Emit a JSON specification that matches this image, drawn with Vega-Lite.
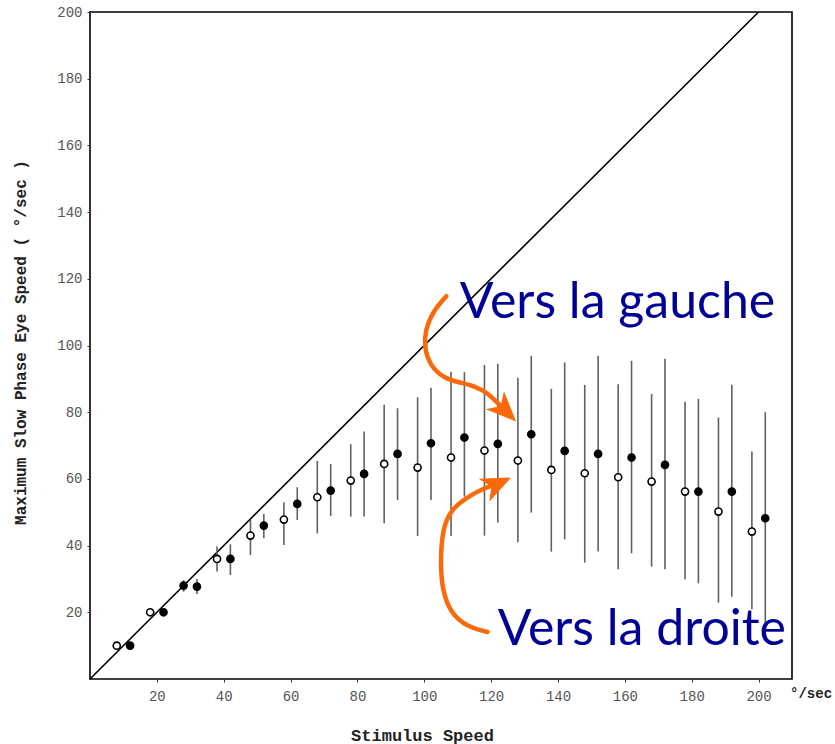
{
  "$schema": "https://vega.github.io/schema/vega-lite/v6.json",
  "width": 702,
  "height": 667,
  "autosize": {"type": "none"},
  "padding": {"left": 90, "top": 12, "right": 43, "bottom": 65},
  "background": "white",
  "config": {
    "view": {"stroke": "black", "strokeWidth": 1.6},
    "axis": {
      "grid": false,
      "domain": false,
      "tickColor": "#333",
      "tickSize": 3,
      "labelFont": "Liberation Mono",
      "labelFontSize": 14,
      "labelColor": "#555",
      "titleFont": "Liberation Mono",
      "titleFontWeight": "bold",
      "titleColor": "#222"
    }
  },
  "datasets": {
    "pts": [
      {"x": 8, "y": 10, "type": "open"},
      {"x": 12, "y": 10, "type": "filled"},
      {"x": 18, "y": 20, "type": "open"},
      {"x": 22, "y": 20, "type": "filled"},
      {"x": 28, "y": 28, "lo": 26.2, "hi": 29.6, "type": "filled"},
      {"x": 32, "y": 27.7, "lo": 25.5, "hi": 30, "type": "filled"},
      {"x": 38, "y": 36, "lo": 32.2, "hi": 39.7, "type": "open"},
      {"x": 42, "y": 36, "lo": 31.2, "hi": 40.4, "type": "filled"},
      {"x": 48, "y": 43, "lo": 37.2, "hi": 47.7, "type": "open"},
      {"x": 52, "y": 46, "lo": 42.2, "hi": 49.5, "type": "filled"},
      {"x": 58, "y": 47.8, "lo": 40.2, "hi": 53, "type": "open"},
      {"x": 62, "y": 52.5, "lo": 47.7, "hi": 57.5, "type": "filled"},
      {"x": 68, "y": 54.5, "lo": 43.7, "hi": 65.4, "type": "open"},
      {"x": 72, "y": 56.5, "lo": 48.9, "hi": 64.5, "type": "filled"},
      {"x": 78, "y": 59.5, "lo": 48.7, "hi": 70.4, "type": "open"},
      {"x": 82, "y": 61.5, "lo": 48.7, "hi": 74.2, "type": "filled"},
      {"x": 88, "y": 64.5, "lo": 46.7, "hi": 82.2, "type": "open"},
      {"x": 92, "y": 67.5, "lo": 53.7, "hi": 81.2, "type": "filled"},
      {"x": 98, "y": 63.4, "lo": 42.9, "hi": 84.5, "type": "open"},
      {"x": 102, "y": 70.7, "lo": 53.7, "hi": 87.3, "type": "filled"},
      {"x": 108, "y": 66.4, "lo": 42.9, "hi": 92.1, "type": "open"},
      {"x": 112, "y": 72.4, "lo": 54.7, "hi": 92, "type": "filled"},
      {"x": 118, "y": 68.5, "lo": 43, "hi": 94.2, "type": "open"},
      {"x": 122, "y": 70.5, "lo": 46.9, "hi": 94.5, "type": "filled"},
      {"x": 128, "y": 65.5, "lo": 41, "hi": 90.3, "type": "open"},
      {"x": 132, "y": 73.4, "lo": 49.9, "hi": 96.9, "type": "filled"},
      {"x": 138, "y": 62.7, "lo": 38.2, "hi": 87, "type": "open"},
      {"x": 142, "y": 68.4, "lo": 41.9, "hi": 94.9, "type": "filled"},
      {"x": 148, "y": 61.7, "lo": 34.9, "hi": 88.2, "type": "open"},
      {"x": 152, "y": 67.5, "lo": 38.2, "hi": 96.9, "type": "filled"},
      {"x": 158, "y": 60.5, "lo": 32.9, "hi": 88.4, "type": "open"},
      {"x": 162, "y": 66.4, "lo": 37.7, "hi": 95.4, "type": "filled"},
      {"x": 168, "y": 59.2, "lo": 33.7, "hi": 85.5, "type": "open"},
      {"x": 172, "y": 64.2, "lo": 32.9, "hi": 96, "type": "filled"},
      {"x": 178, "y": 56.2, "lo": 29.9, "hi": 83.1, "type": "open"},
      {"x": 182, "y": 56.2, "lo": 28.7, "hi": 84, "type": "filled"},
      {"x": 188, "y": 50.2, "lo": 22.9, "hi": 78.4, "type": "open"},
      {"x": 192, "y": 56.2, "lo": 24.7, "hi": 88.2, "type": "filled"},
      {"x": 198, "y": 44.2, "lo": 20.9, "hi": 68.2, "type": "open"},
      {"x": 202, "y": 48.2, "lo": 17, "hi": 80, "type": "filled"}
    ],
    "diag": [
      {"x": 0, "y": 0},
      {"x": 200, "y": 200}
    ],
    "arrows": [
      {"arrow": "gauche", "i": 1, "x": 106.6, "y": 114.8},
      {"arrow": "gauche", "i": 2, "x": 102.4, "y": 110.0},
      {"arrow": "gauche", "i": 3, "x": 100.3, "y": 104.6},
      {"arrow": "gauche", "i": 4, "x": 100.0, "y": 99.3},
      {"arrow": "gauche", "i": 5, "x": 101.8, "y": 93.9},
      {"arrow": "gauche", "i": 6, "x": 105.7, "y": 90.3},
      {"arrow": "gauche", "i": 7, "x": 110.8, "y": 88.8},
      {"arrow": "gauche", "i": 8, "x": 115.0, "y": 87.9},
      {"arrow": "gauche", "i": 9, "x": 118.9, "y": 85.8},
      {"arrow": "gauche", "i": 10, "x": 122.2, "y": 82.5},
      {"arrow": "gauche", "i": 11, "x": 124.3, "y": 80.4},
      {"arrow": "droite", "i": 1, "x": 118.9, "y": 14.1},
      {"arrow": "droite", "i": 2, "x": 112.9, "y": 15.6},
      {"arrow": "droite", "i": 3, "x": 107.8, "y": 19.8},
      {"arrow": "droite", "i": 4, "x": 105.4, "y": 26.7},
      {"arrow": "droite", "i": 5, "x": 104.8, "y": 34.8},
      {"arrow": "droite", "i": 6, "x": 105.4, "y": 44.7},
      {"arrow": "droite", "i": 7, "x": 107.8, "y": 50.7},
      {"arrow": "droite", "i": 8, "x": 112.9, "y": 54.6},
      {"arrow": "droite", "i": 9, "x": 118.0, "y": 57.3},
      {"arrow": "droite", "i": 10, "x": 121.9, "y": 58.5}
    ],
    "heads": [
      {"arrow": "gauche", "x": 124.3, "y": 80.4},
      {"arrow": "droite", "x": 121.9, "y": 58.5}
    ],
    "labels": [
      {"text": "Vers la gauche", "x": 157.8, "y": 108.2},
      {"text": "Vers la droite", "x": 165.1, "y": 10.2}
    ],
    "unit": [
      {"text": "°/sec", "x": 215.7, "y": -4.5}
    ]
  },
  "layer": [
    {
      "data": {"name": "diag"},
      "mark": {"type": "line", "color": "black", "strokeWidth": 1.6},
      "encoding": {
        "x": {
          "field": "x", "type": "quantitative",
          "scale": {"domain": [0, 210], "nice": false, "zero": true},
          "axis": {"values": [20, 40, 60, 80, 100, 120, 140, 160, 180, 200], "labelPadding": 7, "title": "Stimulus Speed", "titleFontSize": 17, "titleX": 332, "titleY": 56, "titleBaseline": "middle", "titleAlign": "center"}
        },
        "y": {
          "field": "y", "type": "quantitative",
          "scale": {"domain": [0, 200], "nice": false},
          "axis": {"values": [20, 40, 60, 80, 100, 120, 140, 160, 180, 200], "labelPadding": 5, "title": "Maximum Slow Phase Eye Speed ( °/sec )", "titleFontSize": 16, "titleX": -70, "titleY": 330, "titleBaseline": "middle", "titleAlign": "center", "titleAngle": -90}
        }
      }
    },
    {
      "data": {"name": "pts"},
      "transform": [{"filter": "datum.lo != null"}],
      "mark": {"type": "rule", "color": "#606060", "strokeWidth": 1.6},
      "encoding": {
        "x": {"field": "x", "type": "quantitative"},
        "y": {"field": "lo", "type": "quantitative"},
        "y2": {"field": "hi"}
      }
    },
    {
      "data": {"name": "pts"},
      "mark": {"type": "point", "shape": "circle", "filled": true, "stroke": "black", "strokeWidth": 1.6, "size": 50, "opacity": 1},
      "encoding": {
        "x": {"field": "x", "type": "quantitative"},
        "y": {"field": "y", "type": "quantitative"},
        "fill": {"field": "type", "type": "nominal", "scale": {"domain": ["open", "filled"], "range": ["white", "black"]}, "legend": null}
      }
    },
    {
      "data": {"name": "arrows"},
      "mark": {"type": "line", "color": "#FA6A0A", "strokeWidth": 4.5, "interpolate": "basis", "strokeCap": "round"},
      "encoding": {
        "x": {"field": "x", "type": "quantitative"},
        "y": {"field": "y", "type": "quantitative"},
        "detail": {"field": "arrow"},
        "order": {"field": "i", "type": "quantitative"}
      }
    },
    {
      "data": {"name": "heads"},
      "transform": [{"filter": "datum.arrow == 'gauche'"}],
      "mark": {"type": "point", "filled": true, "color": "#FA6A0A", "opacity": 1, "shape": "M1,0 L-1,-0.85 L-0.45,0 L-1,0.85 Z", "size": 900, "angle": 45},
      "encoding": {
        "x": {"field": "x", "type": "quantitative"},
        "y": {"field": "y", "type": "quantitative"}
      }
    },
    {
      "data": {"name": "heads"},
      "transform": [{"filter": "datum.arrow == 'droite'"}],
      "mark": {"type": "point", "filled": true, "color": "#FA6A0A", "opacity": 1, "shape": "M1,0 L-1,-0.85 L-0.45,0 L-1,0.85 Z", "size": 900, "angle": 335},
      "encoding": {
        "x": {"field": "x", "type": "quantitative"},
        "y": {"field": "y", "type": "quantitative"}
      }
    },
    {
      "data": {"name": "labels"},
      "mark": {"type": "text", "font": "Lato", "fontSize": 50, "color": "#000096", "align": "center", "baseline": "alphabetic"},
      "encoding": {
        "x": {"field": "x", "type": "quantitative"},
        "y": {"field": "y", "type": "quantitative"},
        "text": {"field": "text"}
      }
    },
    {
      "data": {"name": "unit"},
      "mark": {"type": "text", "font": "Liberation Mono", "fontSize": 14, "fontWeight": "bold", "color": "#222", "align": "center", "baseline": "middle"},
      "encoding": {
        "x": {"field": "x", "type": "quantitative"},
        "y": {"field": "y", "type": "quantitative"},
        "text": {"field": "text"}
      }
    }
  ]
}
